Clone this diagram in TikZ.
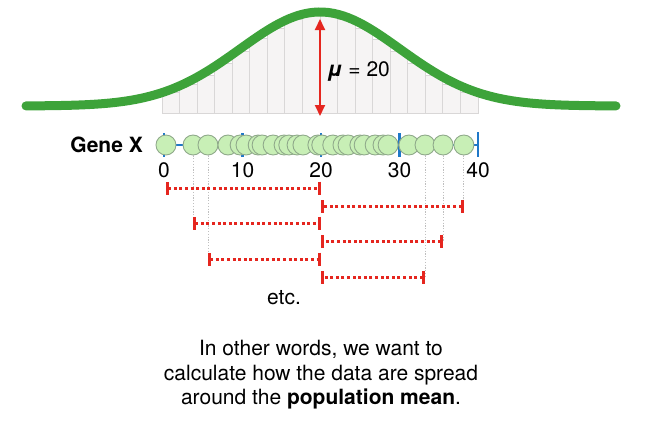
\documentclass[tikz,border=0pt]{standalone}
\usepackage{fontspec}
\setmainfont{TeX Gyre Heros}
\usepackage{tikz}
\usetikzlibrary{arrows.meta, positioning}

\definecolor{curvegreen}{HTML}{3DA33A}
\definecolor{dotgreen}{HTML}{C8EFB6}
\definecolor{dotedge}{HTML}{8FA98A}
\definecolor{axisblue}{HTML}{1F78C8}
\definecolor{devred}{HTML}{E5261F}
\definecolor{histfill}{HTML}{F6F4F4}
\definecolor{histedge}{HTML}{D9D7D7}

\begin{document}
\begin{tikzpicture}[x=1pt, y=-1pt,
    lbl/.style={font=\fontsize{21}{24.5}\selectfont, inner sep=0pt},
    datapt/.style={circle, draw=dotedge, fill=dotgreen, line width=0.9pt, minimum size=20pt, inner sep=0pt},
    histbar/.style={fill=histfill, draw=histedge, line width=1pt},
    devline/.style={devred, line width=3pt, dash pattern=on 3pt off 2.6pt,
        {Bar[width=13pt, line width=3pt]}-{Bar[width=13pt, line width=3pt]}},
    guide/.style={black!25, line width=0.8pt, dash pattern=on 1.2pt off 1.6pt}]
    \useasboundingbox (0,0) rectangle (646,437);

    % histogram behind the curve
    \foreach \i in {0,...,17} {
        \pgfmathsetmacro{\bx}{162+17.56*\i}
        \pgfmathsetmacro{\bt}{106-94*exp(-0.5*((\bx+8.78-320)/80)^2)+3}
        \draw[histbar] (\bx,113) rectangle (\bx+17.56,\bt);
    }

    % normal curve
    \draw[curvegreen, line width=9pt, line cap=round]
        plot[domain=26:616, samples=120] (\x, {106-94*exp(-0.5*((\x-320)/80)^2)});

    % mean arrow
    \coordinate (top) at (320,19);
    \coordinate (bot) at (320,116);
    \draw[devred, line width=2pt, {Triangle[width=10pt,length=11pt]}-{Triangle[width=10pt,length=11pt]}] (top) -- (bot);
    \node[lbl, anchor=west] (mulab) at (327,71) {{\bfseries\itshape μ} = 20};

    % axis and ticks
    \coordinate (x0) at (164,145);
    \coordinate (x40) at (478,145);
    \coordinate (mu) at (321,145);
    \draw[axisblue, line width=2.4pt] (x0) -- (x40);
    \foreach \t in {0,10,20,30} {
        \draw[axisblue, line width=2.2pt] ({164+7.85*\t},133) -- ({164+7.85*\t},157);
        \node[lbl] (t\t) at ({164+7.85*\t},170) {\t};
    }
    \draw[axisblue, line width=2.8pt] (478,132) -- (478,157);
    \node[lbl] (t40) at (478,170) {40};
    \node[lbl, anchor=east, font=\fontsize{21}{24.5}\selectfont\bfseries] (gene) at (143,145) {Gene X};

    % data points
    \foreach \v [count=\i] in {0.25, 3.7, 5.6, 8.15, 9.7, 10.45, 12.0, 12.5, 13.9, 15.3, 15.9,
                               16.95, 17.7, 19.6, 20.1, 21.5, 22.8, 23.45, 24.95, 25.5, 26.9,
                               27.9, 28.55, 31.2, 33.25, 35.55, 38.2} {
        \node[datapt] (g\i) at ({164+7.85*\v},145) {};
    }

    % distances to the mean
    \foreach \r/\yy in {1/188, 2/206, 3/223, 4/241, 5/259, 6/277}
        \coordinate (row\r) at (0,\yy);
    \foreach \g/\r in {2/3, 3/5, 25/6, 26/4, 27/2}
        \draw[guide] (g\g.south) -- (g\g |- row\r);
    \foreach \g/\r in {1/1, 27/2, 2/3, 26/4, 3/5, 25/6}
        \draw[devline] (g\g |- row\r) -- (mu |- row\r);

    \node[lbl] (etc) at (284,298) {etc.};
    \node[lbl, align=center] (note) at (321,375)
        {In other words, we want to\\calculate how the data are spread\\around the \textbf{population mean}.};
\end{tikzpicture}
\end{document}
